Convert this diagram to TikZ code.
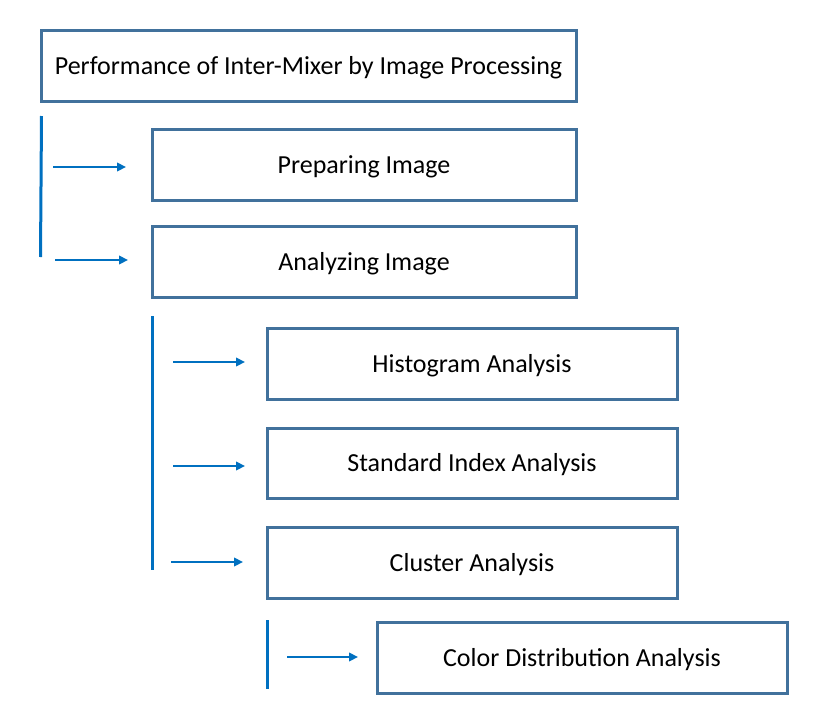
\documentclass[tikz,border=0pt]{standalone}
\usepackage{fontspec}
\setmainfont{Carlito}
\usetikzlibrary{arrows.meta}
\definecolor{boxblue}{HTML}{41719C}
\definecolor{arrblue}{HTML}{0070C0}
\begin{document}
\begin{tikzpicture}[x=1pt,y=-1pt,
  box/.style={draw=boxblue,line width=3pt,fill=white,inner sep=0pt},
  conn/.style={draw=arrblue,line width=2.8pt,-{Triangle[length=9pt,width=8.5pt]}},
  bar/.style={draw=arrblue,line width=3pt},
  lbl/.style={font=\fontsize{26}{31}\selectfont,text=black,yshift=-2pt}]
\useasboundingbox (0,0) rectangle (830,726);
% boxes
\node[box,minimum width=535pt,minimum height=71pt] (title) at (308.5,65.5) {};
\node[lbl] at (title.center) {Performance of Inter-Mixer by Image Processing};
\node[box,minimum width=424pt,minimum height=71pt] (prep) at (364,164.5) {};
\node[lbl] at (prep.center) {Preparing Image};
\node[box,minimum width=424pt,minimum height=71pt] (anal) at (364,261.5) {};
\node[lbl] at (anal.center) {Analyzing Image};
\node[box,minimum width=410pt,minimum height=71pt] (hist) at (472,363.5) {};
\node[lbl] at (hist.center) {Histogram Analysis};
\node[box,minimum width=410pt,minimum height=70pt] (std) at (472,463) {};
\node[lbl] at (std.center) {Standard Index Analysis};
\node[box,minimum width=410pt,minimum height=71pt] (clus) at (472,562.5) {};
\node[lbl] at (clus.center) {Cluster Analysis};
\node[box,minimum width=410pt,minimum height=71pt] (color) at (582,657.5) {};
\node[lbl] at (color.center) {Color Distribution Analysis};
% bars
\coordinate (b1t) at (41.5,116);
\coordinate (b1b) at (40.5,257);
\coordinate (b2t) at (152,316);
\coordinate (b2b) at (152,570);
\coordinate (b3t) at (267,620);
\coordinate (b3b) at (267,689);
\draw[bar] (b1t) -- (b1b);
\draw[bar] (b2t) -- (b2b);
\draw[bar] (b3t) -- (b3b);
% arrows
\coordinate (a1s) at (53,167);  \coordinate (a1e) at (126,167);
\coordinate (a2s) at (55,260);  \coordinate (a2e) at (128,260);
\coordinate (a3s) at (173,362); \coordinate (a3e) at (245,362);
\coordinate (a4s) at (173,466); \coordinate (a4e) at (245,466);
\coordinate (a5s) at (171,562); \coordinate (a5e) at (243,562);
\coordinate (a6s) at (287,657); \coordinate (a6e) at (358,657);
\draw[conn] (a1s) -- (a1e);
\draw[conn] (a2s) -- (a2e);
\draw[conn] (a3s) -- (a3e);
\draw[conn] (a4s) -- (a4e);
\draw[conn] (a5s) -- (a5e);
\draw[conn] (a6s) -- (a6e);
\end{tikzpicture}
\end{document}
